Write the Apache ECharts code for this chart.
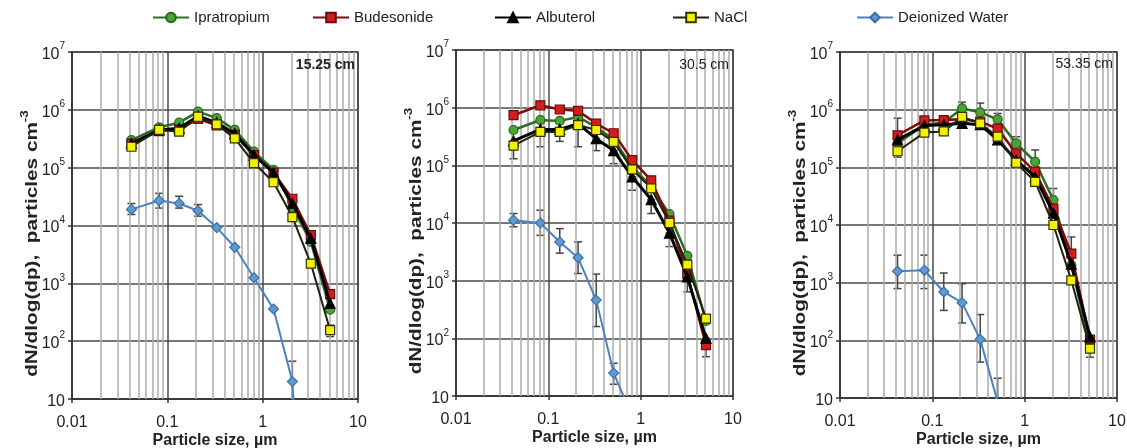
<!DOCTYPE html>
<html><head><meta charset="utf-8">
<script src="https://cdn.jsdelivr.net/npm/echarts@6/dist/echarts.min.js"></script>
<style>html,body{margin:0;padding:0;background:#fff}#c{width:1127px;height:448px}</style>
</head><body><div id="c"></div>
<script>
// ---------------- data ----------------
const sizes = [0.042, 0.082, 0.133, 0.21, 0.33, 0.51, 0.81, 1.3, 2.05, 3.2, 5.1];
const minorTicks = [0.02,0.03,0.04,0.05,0.06,0.07,0.08,0.09,0.2,0.3,0.4,0.5,0.6,0.7,0.8,0.9,2,3,4,5,6,7,8,9];
const panelLabels = ['15.25 cm', '30.5 cm', '53.35 cm'];
const seriesNames = ['Ipratropium', 'Budesonide', 'Albuterol', 'NaCl', 'Deionized Water'];
const xTitle = 'Particle size, \u00b5m';
const yTitle = '{b|dN/dlog(dp),  particles cm}{s|-3}';

const p1Ipratropium = [3.0e5, 5.0e5, 6.0e5, 9.3e5, 7.2e5, 4.5e5, 1.9e5, 9.2e4, 2.1e4, 5.2e3, 350];
const p1Budesonide  = [2.6e5, 4.3e5, 4.6e5, 7.0e5, 5.4e5, 3.7e5, 1.65e5, 8.2e4, 2.9e4, 6.8e3, 650];
const p1Albuterol   = [2.6e5, 4.5e5, 4.8e5, 7.8e5, 6.0e5, 3.9e5, 1.65e5, 8.2e4, 2.4e4, 6.0e3, 450];
const p1NaCl        = [2.3e5, 4.5e5, 4.2e5, 7.6e5, 5.6e5, 3.2e5, 1.2e5, 5.6e4, 1.4e4, 2.2e3, 155];
const p1Water       = [1.9e4, 2.7e4, 2.4e4, 1.8e4, 9.2e3, 4.2e3, 1.25e3, 360, 20, 0.0001, null];

const p2Ipratropium = [4.1e5, 6.1e5, 5.9e5, 6.9e5, 4.6e5, 2.8e5, 9.5e4, 4.3e4, 1.42e4, 2.7e3, 200];
const p2Budesonide  = [7.4e5, 1.1e6, 9.3e5, 8.8e5, 5.3e5, 3.6e5, 1.23e5, 5.5e4, 1.1e4, 1.3e3, 76];
const p2Albuterol   = [2.65e5, 4.2e5, 4.2e5, 5.3e5, 2.9e5, 1.8e5, 6.3e4, 2.55e4, 6.7e3, 1.16e3, 100];
const p2NaCl        = [2.2e5, 3.8e5, 3.8e5, 5.0e5, 4.1e5, 2.55e5, 8.5e4, 4.0e4, 1.0e4, 1.9e3, 220];
const p2Water       = [1.12e4, 1.0e4, 4.7e3, 2.5e3, 460, 25, 4.5, null, null, null, null];

const p3Ipratropium = [2.6e5, 5.5e5, 6.0e5, 1.05e6, 9.0e5, 6.8e5, 2.6e5, 1.25e5, 2.7e4, 2.0e3, 82];
const p3Budesonide  = [3.6e5, 6.5e5, 6.6e5, 6.8e5, 6.2e5, 4.7e5, 1.74e5, 8.4e4, 1.93e4, 3.2e3, 103];
const p3Albuterol   = [3.0e5, 5.3e5, 5.5e5, 5.8e5, 5.5e5, 3.0e5, 1.33e5, 6.8e4, 1.6e4, 2.1e3, 115];
const p3NaCl        = [1.9e5, 4.0e5, 4.2e5, 7.5e5, 5.8e5, 3.4e5, 1.2e5, 5.6e4, 1.0e4, 1.1e3, 72];
const p3Water       = [1.58e3, 1.64e3, 690, 450, 104, 8.5, 0.5, null, null, null, null];

// error bars: [size, low, high]
const p1WaterErr = [[0.042,1.55e4,2.4e4],[0.082,2.0e4,3.6e4],[0.133,2.0e4,3.2e4],[0.21,1.45e4,2.3e4],[2.05,5,45]];
const p1NaClErr = [[5.1,120,190]];
const p2WaterErr = [[0.042,8.6e3,1.46e4],[0.082,6.1e3,1.67e4],[0.133,3.0e3,8.0e3],[0.21,1.33e3,4.7e3],[0.33,160,1.3e3],[0.51,16,37]];
const p2AlbuterolErr = [[0.042,1.3e5,2.65e5],[0.082,2.1e5,4.2e5],[0.133,2.6e5,4.2e5],[0.21,2.1e5,5.3e5],[0.33,1.8e5,2.9e5],[0.51,1.07e5,1.8e5],[0.81,3.7e4,6.3e4],[1.3,1.46e4,2.55e4],[2.05,3.9e3,6.7e3],[3.2,640,1.16e3],[5.1,48,100]];
const p3WaterErr = [[0.042,790,3.0e3],[0.082,790,3.0e3],[0.133,330,1.47e3],[0.21,200,960],[0.33,42,280],[0.51,3,22]];
const p3IpratropiumErr = [[0.21,1.05e6,1.35e6],[0.33,9.0e5,1.3e6],[0.51,6.8e5,8.6e5],[0.81,2.6e5,3.4e5],[1.3,1.25e5,2.0e5],[2.05,2.7e4,4.3e4]];
const p3BudesonideErr = [[0.042,3.6e5,7.1e5],[0.082,6.5e5,9.8e5],[3.2,3.2e3,6.2e3]];
const p3NaClErr = [[0.042,1.5e5,1.9e5],[5.1,51,72]];

// ---------------- chart ----------------
const FONT = 'Liberation Sans, Arial, sans-serif';
const panels = [
  [p1Ipratropium, p1Budesonide, p1Albuterol, p1NaCl, p1Water],
  [p2Ipratropium, p2Budesonide, p2Albuterol, p2NaCl, p2Water],
  [p3Ipratropium, p3Budesonide, p3Albuterol, p3NaCl, p3Water]
];
const panelErrs = [
  [p1WaterErr, p1NaClErr],
  [p2WaterErr, p2AlbuterolErr],
  [p3WaterErr, p3IpratropiumErr, p3BudesonideErr, p3NaClErr]
];
const grids = [
  {left: 72, top: 52, width: 286, height: 347},
  {left: 456, top: 50, width: 277, height: 346},
  {left: 840, top: 52, width: 277, height: 346}
];
const labelPos = [[355, 65, 'bold'], [729, 65, 'normal'], [1113, 64, 'normal']];

const styles = [
  {symbol: 'circle', size: 9, line: '#2f6d22', lw: 2.5, fill: '#46a535', border: '#2a661c'},
  {symbol: 'rect', size: 9, line: '#7e0a0a', lw: 2.5, fill: '#d11d1d', border: '#6e0a0a'},
  {symbol: 'triangle', size: 10, line: '#000000', lw: 3, fill: '#000000', border: '#000000'},
  {symbol: 'rect', size: 9, line: '#202010', lw: 2, fill: '#f2f200', border: '#333300'},
  {symbol: 'diamond', size: 10, line: '#4f81bd', lw: 2, fill: '#5b9bd5', border: '#3d6fa5'}
];

function renderErr(params, api) {
  const x = api.value(0), lo = api.value(1), hi = api.value(2);
  const pl = api.coord([x, lo]), ph = api.coord([x, hi]);
  const w = 4;
  const st = {stroke: '#444', lineWidth: 1.5};
  return {type: 'group', children: [
    {type: 'line', shape: {x1: pl[0], y1: pl[1], x2: ph[0], y2: ph[1]}, style: st},
    {type: 'line', shape: {x1: pl[0] - w, y1: pl[1], x2: pl[0] + w, y2: pl[1]}, style: st},
    {type: 'line', shape: {x1: ph[0] - w, y1: ph[1], x2: ph[0] + w, y2: ph[1]}, style: st}
  ]};
}

const xAxes = [], yAxes = [], series = [], graphics = [];
grids.forEach((g, p) => {
  xAxes.push({
    type: 'log', logBase: 10, min: 0.01, max: 10, gridIndex: p,
    axisLine: {show: true, lineStyle: {color: '#333', width: 1.5}},
    axisTick: {show: true, length: 4, lineStyle: {color: '#333', width: 1.5}},
    axisLabel: {fontSize: 16, color: '#222', fontFamily: FONT, margin: 16},
    splitLine: {show: true, lineStyle: {color: '#4a4a4a', width: 1.5}},
    name: xTitle, nameLocation: 'middle', nameGap: 34, nameMoveOverlap: false,
    nameTextStyle: {fontSize: 16, fontWeight: 'bold', color: '#222', fontFamily: FONT}
  });
  yAxes.push({
    type: 'log', logBase: 10, min: 10, max: 1e7, gridIndex: p,
    axisLine: {show: true, lineStyle: {color: '#333', width: 1.5}},
    axisTick: {show: true, length: 4, lineStyle: {color: '#333', width: 1.5}},
    axisLabel: {
      margin: 7, color: '#222', fontFamily: FONT,
      formatter: v => { const e = Math.round(Math.log10(v)); return e === 1 ? '{b|10}' : '{b|10}{s|' + e + '}'; },
      rich: {
        b: {fontSize: 16, fontFamily: FONT, color: '#222', verticalAlign: 'bottom', padding: [5, 0, 0, 0]},
        s: {fontSize: 10, fontFamily: FONT, color: '#222', verticalAlign: 'top'}
      }
    },
    splitLine: {show: true, lineStyle: {color: '#4a4a4a', width: 1.5}}
  });
  // minor vertical grid lines
  series.push({
    type: 'line', name: 'minor' + p, xAxisIndex: p, yAxisIndex: p, data: [], z: 1, silent: true,
    markLine: {
      silent: true, symbol: 'none', label: {show: false},
      lineStyle: {color: '#ababab', width: 1.5, type: 'solid'},
      data: minorTicks.map(v => ({xAxis: v}))
    }
  });
  panelErrs[p].forEach((errs, k) => {
    series.push({
      type: 'custom', name: 'err' + p + '_' + k, xAxisIndex: p, yAxisIndex: p, z: 3, clip: true,
      renderItem: renderErr, encode: {x: 0, y: [1, 2]}, data: errs, silent: true
    });
  });
  panels[p].forEach((vals, s) => {
    const st = styles[s];
    series.push({
      type: 'line', name: seriesNames[s], xAxisIndex: p, yAxisIndex: p, z: 5 + s,
      data: sizes.map((x, i) => [x, vals[i]]),
      symbol: st.symbol, symbolSize: st.size, showAllSymbol: true, clip: true,
      lineStyle: {color: st.line, width: st.lw},
      itemStyle: {color: st.fill, borderColor: st.border, borderWidth: 1.2},
      emphasis: {disabled: true}
    });
  });
  graphics.push({
    type: 'text', x: labelPos[p][0], y: labelPos[p][1], z: 20,
    style: {text: panelLabels[p], fontSize: 14, fontWeight: labelPos[p][2], fontFamily: FONT, fill: '#222', align: 'right', verticalAlign: 'middle'}
  });
  // rotated y-axis title (the source figure is slightly stretched vertically)
  graphics.push({
    type: 'text', x: g.left - 42, y: g.top + g.height / 2 + 18, rotation: Math.PI / 2, scaleX: 1.22, z: 20,
    style: {
      text: yTitle, align: 'center', verticalAlign: 'middle', fill: '#222',
      rich: {
        b: {fontSize: 17, fontWeight: 'bold', fontFamily: FONT, fill: '#222', verticalAlign: 'bottom', padding: [5, 0, 0, 0]},
        s: {fontSize: 11, fontWeight: 'bold', fontFamily: FONT, fill: '#222', verticalAlign: 'top'}
      }
    }
  });
});

const legendLefts = [152, 312, 494, 672, 856];
const legends = seriesNames.map((n, i) => ({
  data: [n], left: legendLefts[i], top: 10, padding: 0, itemWidth: 36, itemHeight: 12, itemGap: 0,
  textStyle: {fontSize: 15, fontFamily: FONT, color: '#222'}, selectedMode: false
}));

const chart = echarts.init(document.getElementById('c'), null, {renderer: 'canvas'});
chart.setOption({
  animation: false,
  backgroundColor: '#ffffff',
  grid: grids.map(g => Object.assign({show: true, borderColor: '#333', borderWidth: 1.5, backgroundColor: 'transparent', containLabel: false, outerBoundsMode: 'none'}, g)),
  xAxis: xAxes,
  yAxis: yAxes,
  legend: legends,
  series: series,
  graphic: graphics
});
</script>
</body></html>
